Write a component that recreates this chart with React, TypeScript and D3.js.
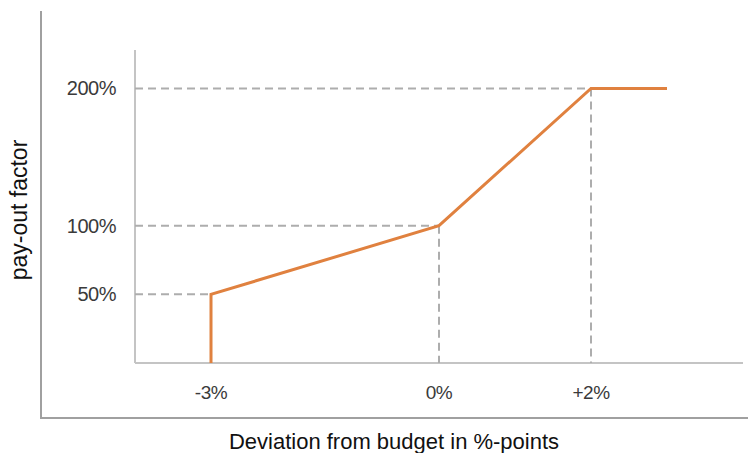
import * as d3 from 'd3'

const xPoints = [-3, -3, 0, 2, 3]
const yPoints = [0, 50, 100, 200, 200]
const xTicks = [-3, 0, 2]
const xTickLabels = ['-3%', '0%', '+2%']
const yTicks = [50, 100, 200]
const yTickLabels = ['50%', '100%', '200%']
// which breakpoints get dashed guide lines
const guidePoints = [
  { x: -3, y: 50, vertical: false },
  { x: 0, y: 100, vertical: true },
  { x: 2, y: 200, vertical: true },
]

export default function App() {
  const width = 748
  const height = 453

  const x = d3.scaleLinear().domain([-4, 4]).range([135, 743])
  const y = d3.scaleLinear().domain([0, 228]).range([363, 50])

  const line = d3.line<number>()
    .x(d => x(xPoints[d]))
    .y(d => y(yPoints[d]))

  const font = 'Liberation Sans, Arial, sans-serif'

  return (
    <svg width={width} height={height} style={{ position: 'absolute', left: 0, top: 0 }}>
      <rect width={width} height={height} fill="#fff" />
      {/* outer frame */}
      <line x1={41} y1={11} x2={41} y2={418} stroke="#a0a0a0" strokeWidth={2} />
      <line x1={40} y1={418} x2={748} y2={418} stroke="#a0a0a0" strokeWidth={2} />
      {/* inner axes */}
      <line x1={x(-4)} y1={y(228)} x2={x(-4)} y2={y(0)} stroke="#c4c4c4" strokeWidth={2} />
      <line x1={x(-4)} y1={y(0)} x2={x(4)} y2={y(0)} stroke="#c4c4c4" strokeWidth={2} />

      {guidePoints.map((g, i) => (
        <g key={i} stroke="#adadad" strokeWidth={2} strokeDasharray="8,5">
          <line x1={x(-4)} y1={y(g.y)} x2={x(g.x)} y2={y(g.y)} />
          {g.vertical && <line x1={x(g.x)} y1={y(g.y)} x2={x(g.x)} y2={y(0)} />}
        </g>
      ))}

      <path d={line(d3.range(xPoints.length)) || ''} fill="none" stroke="#e0813f" strokeWidth={3} />

      {yTicks.map((t, i) => (
        <text key={t} x={116} y={y(t)} dy="0.35em" textAnchor="end" fontFamily={font} fontSize={20} fill="#3a3a3a" letterSpacing={-0.5}>
          {yTickLabels[i]}
        </text>
      ))}
      {xTicks.map((t, i) => (
        <text key={t} x={x(t)} y={392} dy="0.35em" textAnchor="middle" fontFamily={font} fontSize={19} fill="#3a3a3a" letterSpacing={-0.5}>
          {xTickLabels[i]}
        </text>
      ))}

      <text x={394} y={449} textAnchor="middle" fontFamily={font} fontSize={22} fill="#111">
        Deviation from budget in %-points
      </text>
      <text transform="translate(27,210) rotate(-90)" textAnchor="middle" fontFamily={font} fontSize={23} fill="#111">
        pay-out factor
      </text>
    </svg>
  )
}
